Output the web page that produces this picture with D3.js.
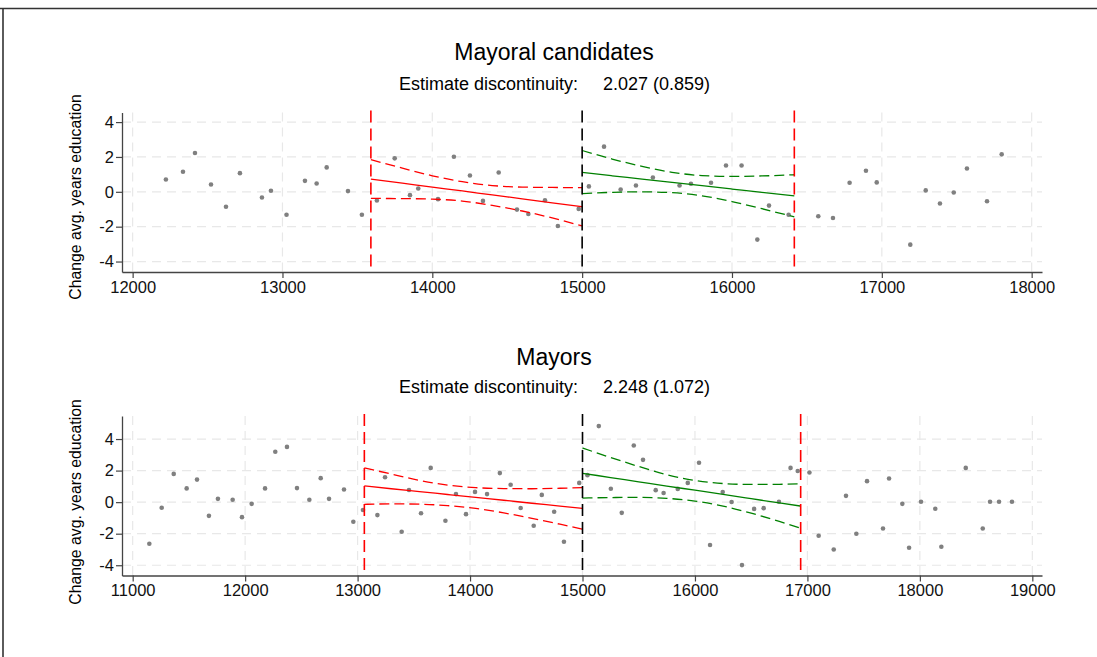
<!DOCTYPE html>
<html><head><meta charset="utf-8">
<script src="https://cdn.jsdelivr.net/npm/d3@7"></script>
<style>
html,body{margin:0;padding:0;background:#fff;}
svg{display:block;font-family:"Liberation Sans",Arial,sans-serif;}
</style></head>
<body>
<svg id="chart" width="1097" height="657"></svg>
<script>
// ---------- Data: Mayoral candidates ----------
const candTitle = "Mayoral candidates";
const candEstimate = "2.027 (0.859)";
const candX = [12222,12336,12416,12523,12623,12716,12863,12923,13027,13150,13228,13295,13437,13530,13630,13749,13851,13906,14038,14144,14251,14338,14443,14565,14641,14752,14838,14977,15045,15146,15257,15359,15472,15650,15726,15860,15960,16064,16169,16247,16378,16576,16674,16785,16894,16966,17190,17293,17388,17480,17568,17702,17800];
const candY = [0.71,1.15,2.23,0.42,-0.86,1.07,-0.33,0.06,-1.32,0.63,0.48,1.40,0.04,-1.32,-0.50,1.92,-0.19,0.19,-0.42,2.01,0.94,-0.52,1.11,-1.02,-1.27,-0.48,-1.96,-0.98,0.31,2.59,0.13,0.36,0.82,0.36,0.46,0.52,1.51,1.51,-2.74,-0.79,-1.32,-1.40,-1.50,0.52,1.21,0.54,-3.03,0.08,-0.67,-0.04,1.34,-0.54,2.15];
const candBandwidth = [13590, 16416];
// left-side fit (red)
const candLeftX   = [13590,13800,14000,14200,14400,14600,14800,15000];
const candLeftFit = [0.73,0.495,0.27,0.05,-0.18,-0.40,-0.63,-0.85];
const candLeftHi  = [1.84,1.36,0.92,0.58,0.36,0.27,0.25,0.24];
const candLeftLo  = [-0.38,-0.39,-0.42,-0.53,-0.78,-1.10,-1.50,-1.96];
// right-side fit (green)
const candRightX   = [15000,15200,15400,15600,15800,16000,16200,16416];
const candRightFit = [1.11,0.92,0.73,0.54,0.35,0.16,-0.03,-0.23];
const candRightHi  = [2.37,1.88,1.46,1.12,0.93,0.88,0.91,0.98];
const candRightLo  = [-0.10,-0.03,0.00,-0.05,-0.23,-0.56,-0.97,-1.44];
const candXTicks = [12000,13000,14000,15000,16000,17000,18000];

// ---------- Data: Mayors ----------
const mayTitle = "Mayors";
const mayEstimate = "2.248 (1.072)";
const mayX = [11148,11258,11365,11480,11572,11678,11758,11889,11972,12058,12177,12268,12372,12461,12571,12672,12746,12879,12962,13048,13176,13244,13392,13457,13564,13650,13781,13875,13964,14044,14151,14265,14361,14450,14566,14638,14748,14835,14971,15044,15145,15252,15349,15456,15538,15651,15721,15847,15936,16036,16134,16247,16326,16418,16526,16611,16747,16850,16914,17018,17100,17234,17343,17435,17530,17672,17726,17844,17904,18010,18137,18191,18408,18559,18624,18704,18819];
const mayY = [-2.64,-0.36,1.79,0.87,1.43,-0.87,0.21,0.15,-0.95,-0.11,0.87,3.19,3.50,0.89,0.15,1.52,0.21,0.80,-1.24,-0.50,-0.82,1.58,-1.88,0.77,-0.70,2.17,-1.18,0.51,-0.76,0.65,0.51,1.84,1.10,-0.37,-1.50,0.46,-0.61,-2.51,1.22,1.71,4.82,0.85,-0.68,3.59,2.68,0.76,0.58,0.84,1.22,2.50,-2.72,0.64,0.01,-3.99,-0.43,-0.38,0.02,2.17,1.97,1.88,-2.13,-3.00,0.40,-2.00,1.33,-1.67,1.50,-0.11,-2.89,0.02,-0.42,-2.83,2.17,-1.67,0.02,0.02,0.02];
const mayBandwidth = [13060, 16940];
const mayLeftX   = [13060,13300,13550,13800,14050,14300,14550,14800,15000];
const mayLeftFit = [1.03,0.85,0.67,0.485,0.30,0.12,-0.07,-0.25,-0.40];
const mayLeftHi  = [2.17,1.78,1.38,1.08,0.92,0.86,0.85,0.88,0.92];
const mayLeftLo  = [-0.14,-0.11,-0.13,-0.22,-0.40,-0.68,-1.03,-1.40,-1.71];
const mayRightX   = [15000,15250,15500,15750,16000,16250,16500,16750,16940];
const mayRightFit = [1.83,1.56,1.29,1.02,0.755,0.49,0.22,-0.05,-0.25];
const mayRightHi  = [3.43,2.83,2.26,1.74,1.37,1.18,1.12,1.13,1.16];
const mayRightLo  = [0.26,0.29,0.30,0.24,0.07,-0.25,-0.70,-1.22,-1.66];
const mayXTicks = [11000,12000,13000,14000,15000,16000,17000,18000,19000];

const yTicks = [-4,-2,0,2,4];
const cutoff = 15000;
const yLabel = "Change avg. years education";
const estLabel = "Estimate discontinuity:";

// ---------- Drawing ----------
const svg = d3.select("#chart");
svg.append("rect").attr("width",1097).attr("height",657).attr("fill","#fff");
// outer frame (top and left edges)
svg.append("line").attr("x1",0).attr("x2",1097).attr("y1",8.5).attr("y2",8.5).attr("stroke","#333").attr("stroke-width",1.6);
svg.append("line").attr("x1",3).attr("x2",3).attr("y1",8.5).attr("y2",657).attr("stroke","#333").attr("stroke-width",1.6);

function panel(o){
  const g = svg.append("g");
  const x = d3.scaleLinear().domain(o.xDomain).range([122,1042]);
  const y = d3.scaleLinear().domain(o.yDomain).range(o.yRange);
  const top = o.yRange[1], bot = o.yRange[0];

  // gridlines
  g.selectAll(".hg").data(yTicks).join("line")
    .attr("x1",122).attr("x2",1042).attr("y1",d=>y(d)).attr("y2",d=>y(d))
    .attr("stroke","#e8e8e8").attr("stroke-width",1.2).attr("stroke-dasharray","9,6");
  g.selectAll(".vg").data(o.xTicks).join("line")
    .attr("x1",d=>x(d)).attr("x2",d=>x(d)).attr("y1",top).attr("y2",bot)
    .attr("stroke","#e8e8e8").attr("stroke-width",1.2).attr("stroke-dasharray","9,6");

  // axes
  const ax = g.append("g").attr("transform",`translate(0,${bot})`)
    .call(d3.axisBottom(x).tickValues(o.xTicks).tickFormat(d=>String(d)).tickSize(6).tickSizeOuter(0).tickPadding(3));
  const ay = g.append("g").attr("transform",`translate(122,0)`)
    .call(d3.axisLeft(y).tickValues(yTicks).tickFormat(d=>String(d)).tickSize(6).tickSizeOuter(0).tickPadding(2));
  [ax,ay].forEach(a=>{
    a.select(".domain").attr("stroke","#444").attr("stroke-width",1.3);
    a.selectAll(".tick line").attr("stroke","#444").attr("stroke-width",1.2);
    a.selectAll(".tick text").attr("font-family","Liberation Sans, Arial, sans-serif").attr("font-size",16.5).attr("fill","#111");
  });

  // points
  g.selectAll(".pt").data(o.px.map((v,i)=>[v,o.py[i]])).join("circle")
    .attr("cx",d=>x(d[0])).attr("cy",d=>y(d[1])).attr("r",2.3).attr("fill","#808080");

  // fits
  const fitLine = (xs,ys)=>d3.line().x((d,i)=>x(xs[i])).y(d=>y(d)).curve(d3.curveMonotoneX)(ys);
  const fits = [
    [o.lx,o.lf,"#ff0000",null],[o.lx,o.lh,"#ff0000","10,5"],[o.lx,o.ll,"#ff0000","10,5"],
    [o.rx,o.rf,"#008000",null],[o.rx,o.rh,"#008000","10,5"],[o.rx,o.rl,"#008000","10,5"]
  ];
  fits.forEach(f=>{
    g.append("path").attr("d",fitLine(f[0],f[1])).attr("fill","none")
      .attr("stroke",f[2]).attr("stroke-width",1.3).attr("stroke-dasharray",f[3]);
  });

  // vertical lines
  o.bw.forEach(v=>{
    g.append("line").attr("x1",x(v)).attr("x2",x(v)).attr("y1",top-2).attr("y2",bot)
      .attr("stroke","#ff0000").attr("stroke-width",1.6).attr("stroke-dasharray","12,6");
  });
  g.append("line").attr("x1",x(cutoff)).attr("x2",x(cutoff)).attr("y1",top-2).attr("y2",bot)
    .attr("stroke","#000").attr("stroke-width",1.6).attr("stroke-dasharray","12,6");

  // titles
  g.append("text").attr("x",554).attr("y",o.titleY).attr("text-anchor","middle")
    .attr("font-size",23).attr("fill","#000").text(o.title);
  g.append("text").attr("x",578).attr("y",o.subY).attr("text-anchor","end")
    .attr("font-size",18).attr("fill","#000").text(estLabel);
  g.append("text").attr("x",603).attr("y",o.subY).attr("text-anchor","start")
    .attr("font-size",18).attr("fill","#000").text(o.est);
  g.append("text").attr("transform",`translate(81,${o.labelY}) rotate(-90)`).attr("text-anchor","middle")
    .attr("font-size",15.8).attr("fill","#000").text(yLabel);
}

panel({xDomain:[11929,18069], yDomain:[-4.6,4.55], yRange:[272,112.5], xTicks:candXTicks,
  px:candX, py:candY, bw:candBandwidth,
  lx:candLeftX, lf:candLeftFit, lh:candLeftHi, ll:candLeftLo,
  rx:candRightX, rf:candRightFit, rh:candRightHi, rl:candRightLo,
  title:candTitle, est:candEstimate, titleY:60, subY:90, labelY:197});

panel({xDomain:[10905,19086], yDomain:[-4.65,5.46], yRange:[575.5,416], xTicks:mayXTicks,
  px:mayX, py:mayY, bw:mayBandwidth,
  lx:mayLeftX, lf:mayLeftFit, lh:mayLeftHi, ll:mayLeftLo,
  rx:mayRightX, rf:mayRightFit, rh:mayRightHi, rl:mayRightLo,
  title:mayTitle, est:mayEstimate, titleY:365, subY:393, labelY:502});
</script>
</body></html>
